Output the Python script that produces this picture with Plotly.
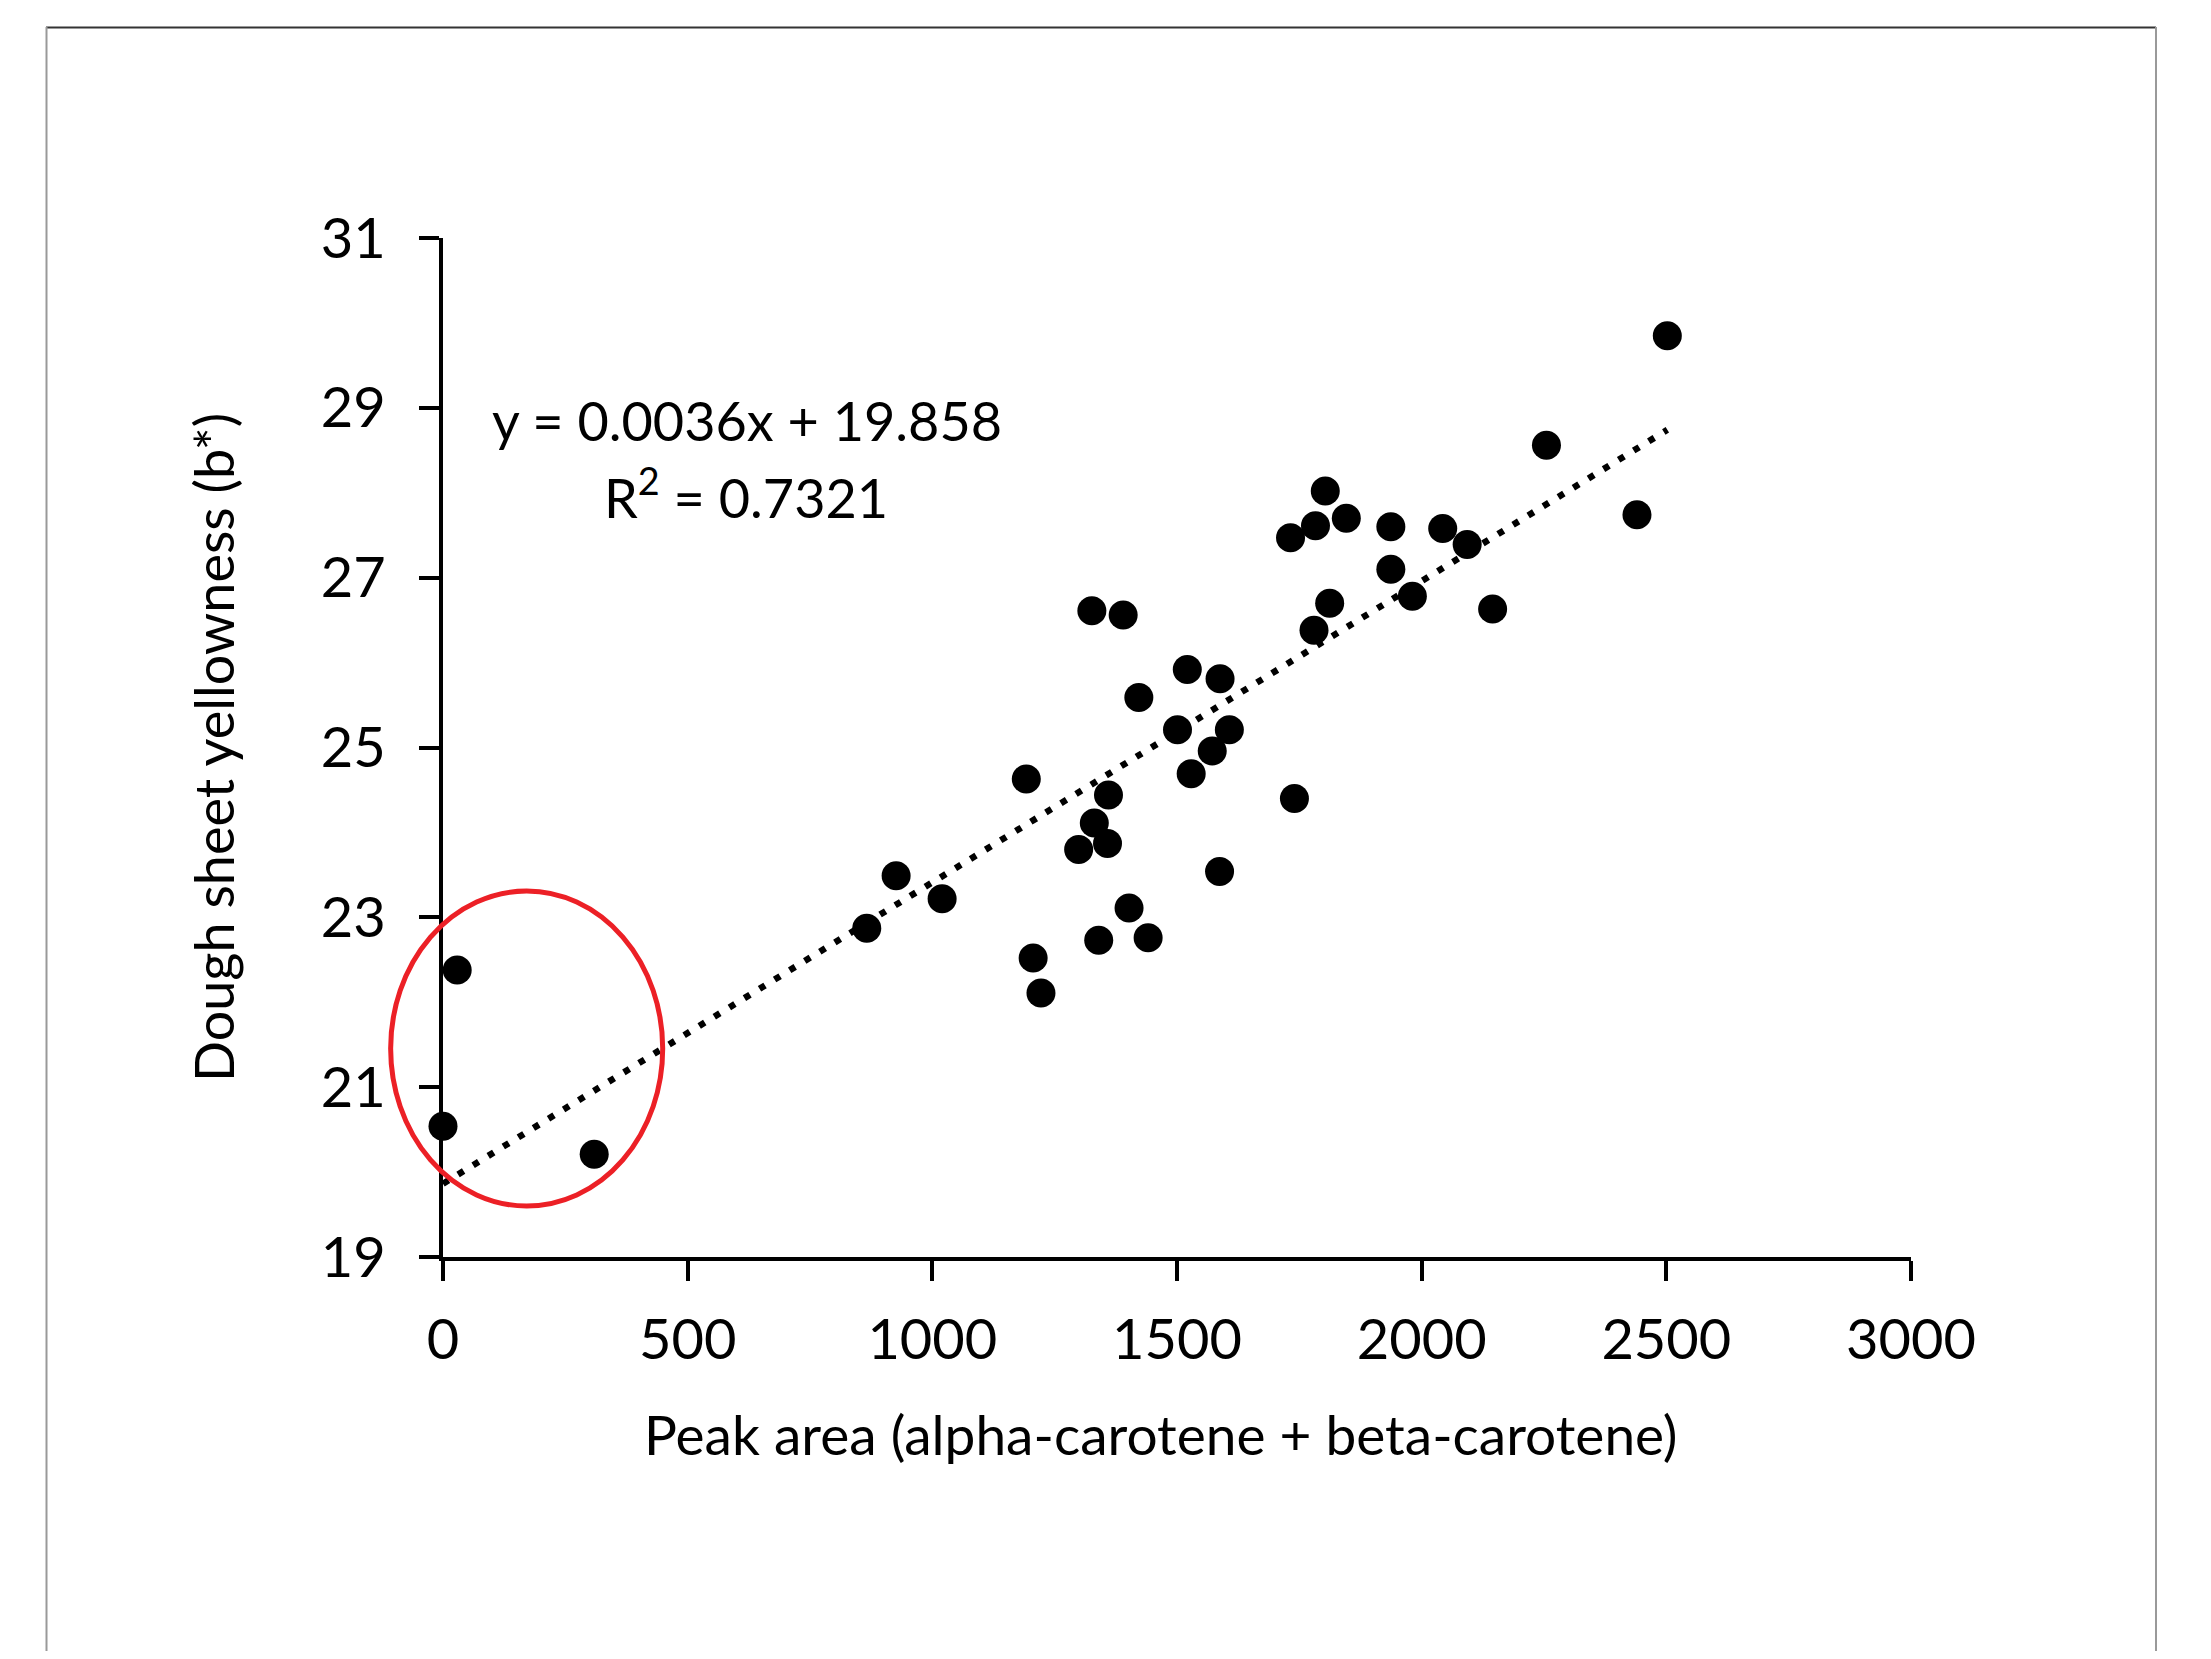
import numpy as np
import plotly.graph_objects as go

# ---- data ----
peak_area = [0, 29, 309, 866, 926, 1020, 1192, 1206, 1222, 1299, 1326, 1331,
             1340, 1358, 1360, 1390, 1402, 1422, 1441, 1501, 1521, 1529, 1572, 1587,
             1588, 1607, 1732, 1740, 1780, 1783, 1803, 1812, 1846, 1937, 1937, 1981,
             2043, 2093, 2145, 2255, 2440, 2502]
yellowness = [20.54, 22.38, 20.21, 22.87, 23.49, 23.22, 24.63, 22.52, 22.11, 23.80, 26.61, 24.11,
              22.73, 23.87, 24.44, 26.56, 23.11, 25.59, 22.76, 25.21, 25.92, 24.69, 24.96, 23.54,
              25.81, 25.21, 27.47, 24.40, 26.38, 27.61, 28.02, 26.70, 27.70, 27.60, 27.10, 26.78,
              27.58, 27.39, 26.63, 28.56, 27.74, 29.85]
x_ticks = [0, 500, 1000, 1500, 2000, 2500, 3000]
y_ticks = [19, 21, 23, 25, 27, 29, 31]
eq_text = "y = 0.0036x + 19.858"
r2_text = "R<sup>2</sup> = 0.7321"
x_title = "Peak area (alpha-carotene + beta-carotene)"
y_title = "Dough sheet yellowness (b*)"
# circled region (data units)
circle_x = [-107, 449]
circle_y = [19.60, 23.31]

# the page body adds an 8px margin, so the figure is laid out 8px smaller on each side
OFF = 8
W_FIG, H_FIG = 2211 - 2 * OFF, 1659 - 2 * OFF
L, T = 443 - OFF, 238 - OFF
PW, PH = 1468, 1019
R = W_FIG - L - PW
B = H_FIG - T - PH
XR = [0, 3000]
YR = [19, 31]

def xpaper(v):
    return (v - XR[0]) / (XR[1] - XR[0])

def ypaper(v):
    return (v - YR[0]) / (YR[1] - YR[0])

def px2paper_x(p):
    return (p - OFF - L) / PW

def px2paper_y(p):
    return 1 - (p - OFF - T) / PH

# linear trend fitted from the data
slope, intercept = np.polyfit(peak_area, yellowness, 1)
tx = [min(peak_area), max(peak_area)]
ty = [slope * v + intercept for v in tx]

FONT = "Lato, 'Open Sans', sans-serif"

fig = go.Figure()
fig.add_trace(go.Scatter(x=peak_area, y=yellowness, mode="markers",
                         marker=dict(size=29, color="black"),
                         cliponaxis=False, showlegend=False))
fig.add_trace(go.Scatter(x=tx, y=ty, mode="lines",
                         line=dict(color="black", width=6.5, dash="6.5px,11.2px"),
                         cliponaxis=False, showlegend=False))

axis_common = dict(showline=True, linecolor="black", linewidth=4,
                   ticks="outside", ticklen=20, tickwidth=3.5, tickcolor="black",
                   showgrid=False, zeroline=False, automargin=False,
                   tickfont=dict(family=FONT, size=56, color="black"))

fig.update_xaxes(range=XR, tickvals=x_ticks, ticktext=[str(v) for v in x_ticks],
                 ticklabelstandoff=11, **axis_common)
fig.update_yaxes(range=YR, tickvals=y_ticks, ticktext=[str(v) for v in y_ticks],
                 ticklabelstandoff=22,
                 title=dict(text=y_title,
                            font=dict(family=FONT, size=54, color="black"), standoff=70),
                 **axis_common)

shapes = [
    dict(type="circle", xref="paper", yref="paper",
         x0=xpaper(circle_x[0]), x1=xpaper(circle_x[1]),
         y0=ypaper(circle_y[0]), y1=ypaper(circle_y[1]),
         line=dict(color="rgb(236,32,38)", width=5)),
    # outer frame (page pixel positions)
    dict(type="line", xref="paper", yref="paper",
         x0=px2paper_x(46), x1=px2paper_x(2156), y0=px2paper_y(27.5), y1=px2paper_y(27.5),
         line=dict(color="#333", width=2)),
    dict(type="line", xref="paper", yref="paper",
         x0=px2paper_x(46.5), x1=px2paper_x(46.5), y0=px2paper_y(27), y1=px2paper_y(1700),
         line=dict(color="#999", width=2)),
    dict(type="line", xref="paper", yref="paper",
         x0=px2paper_x(2156), x1=px2paper_x(2156), y0=px2paper_y(27), y1=px2paper_y(1700),
         line=dict(color="#999", width=2)),
]

annotations = [
    dict(x=621, y=28.85, xref="x", yref="y", text=eq_text, showarrow=False,
         xanchor="center", yanchor="middle",
         font=dict(family=FONT, size=54, color="black")),
    dict(x=619, y=27.98, xref="x", yref="y", text=r2_text, showarrow=False,
         xanchor="center", yanchor="middle",
         font=dict(family=FONT, size=54, color="black")),
    # x-axis title
    dict(x=px2paper_x(1161), y=px2paper_y(1434), xref="paper", yref="paper",
         text=x_title, showarrow=False, xanchor="center", yanchor="middle",
         font=dict(family=FONT, size=55, color="black")),
]

fig.update_layout(width=W_FIG, height=H_FIG,
                  margin=dict(l=L, r=R, t=T, b=B, pad=0),
                  paper_bgcolor="white", plot_bgcolor="white",
                  shapes=shapes, annotations=annotations, showlegend=False)

fig.write_html("out.html")
